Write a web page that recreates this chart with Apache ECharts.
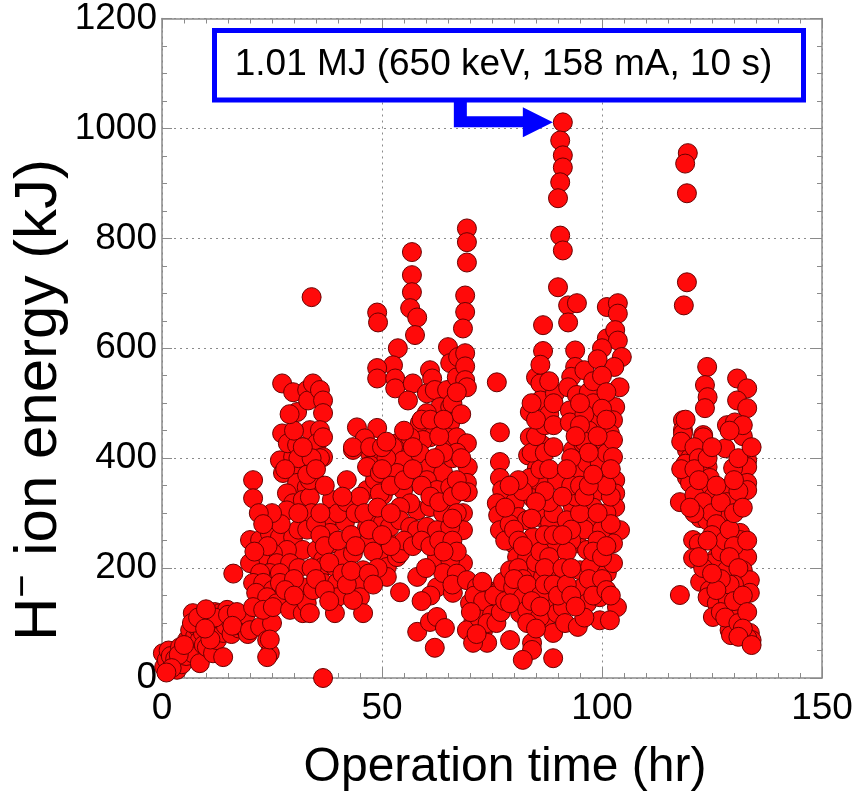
<!DOCTYPE html>
<html>
<head>
<meta charset="utf-8">
<script src="https://cdn.jsdelivr.net/npm/echarts@6/dist/echarts.min.js"></script>
<style>html,body{margin:0;padding:0;background:#fff}#c{width:860px;height:791px}</style>
</head>
<body>
<div id="c"></div>
<script>
// ---- data: [operation time (hr), H- ion energy (kJ)] ----
const period1 = [[0.5,20],[0.2,45],[1.1,33],[1.5,50],[2.5,27],[2,40],[3.4,15],[3,35],[4.1,56],[4.8,45],[4.5,25],[5.7,69],[5.5,40],[6.4,87],[6,55],[7,118],[7,45],[7.5,75],[8,93],[8.6,69],[8.6,27],[9.3,82],[9,100],[9.5,60],[10.2,56],[10.9,111],[10.5,85],[11.6,93],[11.6,45],[12,120],[12.5,69],[12.8,100],[13.2,118],[13.9,82],[13.9,38],[14.5,95],[14.8,124],[15.5,105],[15.8,80],[16.2,190],[16.5,115],[17,105],[17.5,90],[18.4,93],[18.4,105],[19,115],[19.5,80],[6.8,100],[8.2,110],[11,70],[12,110],[15,115],[17,120],[16,95],[3.8,42],[5,60],[9.8,90],[2.2,18],[1,10],[10,125]];
const period2 = [[20,87],[22.3,93],[23.9,69],[24.5,45],[23.9,38],[25,100],[24.5,70],
[20,251],[22.3,251],[24.5,264],[26.8,256],[29.8,256],[32,233],[28.4,233],[25.2,227],[22.3,220],[20,209],[26.1,209],[29.1,209],[24.5,191],[26.8,191],[22.3,191],[20.7,173],[23,173],[25.2,160],[26.8,173],[21.4,155],[23.9,147],[26.1,136],[20.7,129],[23,124],[25.2,129],[29.1,124],[32,118],[32,165],[32.9,136],
[20.7,360],[20.7,327],[26.8,396],[29.8,402],[30.7,384],[27.5,373],[30.7,355],[32.9,347],[28.4,336],[29.8,318],[32,324],[26.1,293],[28.4,305],[32.9,293],
[27.3,536],[29.8,520],[33,524],[30.7,484],[33.2,505],[27.3,445],[28.6,427],[30.7,424],[33.6,451],[34,693],
[34.3,536],[35.9,524],[36.6,505],[36.6,482],[35.9,451],[35.2,427],[36.6,438],[36.6,402],[35.9,400],[35.2,355],[33.6,329],[33.6,360],[38.6,324],[38.2,293],[38.2,264],[38.6,245],[41.6,284],[42,360],[35.2,233],[36.6,215],[36.6,202],[36.6,173],[34.3,160],[33.6,118],[39.3,202],[39.8,173],[39.8,147],[39.3,118],[41.1,220],[43.4,227],[45.7,196],[45.7,173],[45,147],[45.7,118],[43.4,142],[47.3,409],[47.3,387],[46.6,342],[48.4,360],[50.2,333],[43.4,415],[46.6,275],[48,293],[48.9,256],[46.8,245],[51.1,251],[50.2,282],[49.5,220],[51.1,202],[51.1,184],[36.6,0],
[44.3,456],[48.9,455],[46.1,436],[43.4,420],[47.3,420],[46.6,384],[49.5,373],[49.5,336],
[31,270],[33,270],[34,300],[35,280],[36,260],[37,240],[38,210],[40,250],[40,300],[42,320],[43,260],[44,240],[44,300],[45,330],[46,300],[47,270],[48,230],[49,310],[49,200],[41,190],[42,170],[43,195],[47,190],[48,170],[31,200],[30,180],[28,160],[30,150],[27,280],[25,300],[24,240],[22,300],[23,280],[21,230],[34,200],[35,180],[37,160],[38,140],[30,450],[31,400],[29,480],[34,400],[33,370],[35,380],[37,350],[31,300],[28,380],[32,420],[36,300],[41,330]];
const period3 = [[48.9,665],[49.1,647],[56.8,775],[56.8,733],[56.8,702],[56.4,673],[58,656],[57.5,624],[53.6,600],[52.5,569],[48.9,564],[48.9,545],[53,545],[53,527],[57,536],[55.9,505],[60.9,560],[61.4,545],[60.2,518],[62,524],[64.8,524],[63.2,493],[65.5,493],[60.2,482],[65.5,464],[62.5,464],[60.9,438],[64.8,438],[67,438],[65,602],[65.5,573],[67.3,584],[67,547],[53.4,427],[58.6,464],[59.3,433],[56.4,438],
[69.3,818],[69.3,793],[69.3,756],[68.9,696],[68.9,666],[68.4,636],[68.9,591],[68.9,567],[68.9,542],[69.3,529],[69.3,427],[69.5,384],[69.3,355],[69.5,338],[68.4,300],[68.4,269],[68.4,209],
[52.5,420],[54.8,396],[58.6,409],[60.9,384],[63.9,373],[60.2,360],[62.5,342],[65.5,347],[58,305],[60.9,311],[63.9,300],[53.4,373],[54.8,342],[56.4,318],[54.1,311],[51.8,275],[54.1,287],[56.4,275],[58,269],[60.2,275],[62.5,269],[65.5,275],[53.4,220],[54.1,227],[54.1,156],[58,184],[62.5,220],[65.5,215],[62.5,165],[66.1,155],[63.9,191],[58,84],[60.9,102],[62.5,111],[64.3,91],[62,55],
[51,400],[52,350],[55,360],[57,380],[59,350],[61,330],[63,320],[66,330],[67,360],[66,400],[67,410],[64,410],[62,400],[57,420],[55,450],[59,470],[61,470],[63,440],[66,500],[67,520],[68,480],[64,470],[52,300],[55,250],[57,240],[59,250],[61,240],[63,250],[66,250],[67,230],[60,200],[64,230],[67,190],[66,170],[61,150],[59,140],[52,240],[50,260],[50,380],[50,420],[51,430],[68,400],[68,340],[67,300],[66,290]];
const period4 = [[69.3,178],[71.6,165],[73.9,160],[70,136],[72.3,124],[74.5,129],[70.7,100],[73,87],[69.3,87],[73.9,64],[70.7,64],[76.1,136],[76.8,160],[71,150],[72,110],[73,140],[75,115],[75.5,150],[74,100],[71.5,80],[72.8,175],[70.2,120],[76,100],[77,120],[78,140],[77.5,175],
[76.1,538],[76.8,447],[76.8,393],[76.8,364],[77.3,342],[76.1,318],[76.4,296],[76.8,269],[80.2,320],[81,293],
[83.6,438],[86.4,424],[83.2,405],[85.2,382],[85.9,355],[83.6,364],[84.3,327],[89.8,360],
[82.9,287],[85.9,293],[88.2,282],[84.3,256],[88.9,245],[79.8,245],[80.7,220],[79.1,196],[83,220],[84.3,196],[86.6,184],[89.8,196],
[79.8,165],[82,147],[81.4,118],[79.1,136],[83,124],[85.9,160],[88.2,142],[87.5,111],[85.9,111],[89.8,118],[91.1,129],[88.9,82],[91.6,100],
[79.1,69],[84.1,64],[84.1,51],[82,33],[88.9,36],
[86.6,642],[86.6,595],[85,547],[86,536],[86,505],[83.6,484],[89.3,518],
[78,250],[79,280],[80,270],[81,250],[82,240],[81,200],[82,180],[80,180],[83,170],[85,210],[86,230],[87,260],[88,220],[87,200],[89,260],[89,300],[88,320],[87,340],[86,380],[84,410],[85,440],[87,460],[88,480],[85,470],[84,500],[87,410],[88,380],[89,420],[89,460],[89,500],[86,570],[88,540],[82,340],[81,360],[79,350],[78,310],[85,320],[84,290],[86,150],[87,170],[84,140],[83,100],[85,90],[86,130],[89,170],[90,150]];
const period5 = [[91.1,1011],[90.5,978],[91.1,951],[91.1,929],[90.5,902],[90,873],[90.5,805],[91.1,778],[90,711],[92.3,678],[94.3,682],[92.3,647],[101.1,675],[101.1,618],
[93.9,596],[93.9,566],[93,548],[92.3,529],[94.3,515],[92.7,487],[92.7,465],
[93.4,415],[95.7,427],[98,420],[100.2,433],[94.3,373],[96.6,391],[99.5,391],[101.1,409],[93.4,311],[92,287],
[94.3,245],[96.6,233],[95,196],[97.3,202],[95.7,165],[98.9,173],[101.1,191],[96.6,136],[99.5,147],[99.5,105],[94.5,93],
[103.6,682],[103.6,663],[103,633],[103.6,614],[104.5,584],[102.8,566],[104,529],[103,493],[102.5,469],[101.8,445],
[102.5,433],[102.5,402],[103,360],[103,336],[103,311],[104.1,269],[102.5,245],[102.5,209],[103.4,129],[101.8,105],
[96,560],[97,520],[98,500],[99,470],[97,450],[96,480],[98,540],[100,600],[99,580],[95,500],[96,430],[97,410],[95,460],[100,550],[101,520],[100,490],[99,440],[101,470],[100,360],[99,340],[98,310],[97,290],[96,270],[95,300],[94,330],[93,350],[93,400],[94,440],[101,300],[100,270],[99,250],[98,230],[100,220],[101,240],[102,280],[102,330],[101,350],[102,380],[97,180],[98,150],[96,110],[93,250],[92,230],[91,200],[92,170],[93,150],[94,130],[93,270],[100,180],[101,160],[102,150],[95,350],[96,330],[97,350],[98,370],[99,300],[92,380],[91,330],[91,260],[93,200]];
const period6 = [[119.5,955],[118.9,936],[119.3,882],[119.3,720],[118.6,678],
[123.9,566],[123.4,533],[124,511],[123.4,491],[118.4,469],[118.4,451],[123,442],[130.7,545],[133,527],[130.7,505],[133,491],[128.4,460],[130.2,465],
[118.4,445],[123,438],[128,418],[133,396],[133,384],[133,355],[133,342],[129.8,382],[119.3,415],[120,400],[119.3,365],[120,355],[124,384],[124.5,364],[124,342],[125.2,329],[117.7,320],[121,333],[127.5,342],[128.4,320],[128.6,293],[126.8,300],[122.3,291],[123.9,287],[120.7,251],[122,245],[120.7,218],[126.1,269],[126.8,251],[126.1,220],[125.2,209],[131.4,264],[131.4,251],[133,220],[132,196],[128.4,196],[122.3,175],[124.5,160],[124,147],[126.1,136],[125.2,111],[128.6,142],[117.7,151],[131.4,129],[131.6,115],[133.6,178],[133.6,155],[129,87],[129.3,78],[133.6,82],[134,69],[133,73],
[118,430],[119,390],[118,380],[119,470],[121,420],[122,400],[121,380],[122,360],[123,320],[125,300],[126,280],[127,320],[125,260],[127,230],[128,250],[129,270],[130,300],[130,240],[129,220],[131,200],[130,170],[129,170],[127,180],[126,160],[127,120],[128,110],[130,140],[131,100],[132,150],[133,120],[132,90],[131,75],[134,60],[123,200],[122,220],[124,250],[125,190],[121,300],[120,310],[124,400],[125,420],[126,350],[131,340],[132,310],[130,360],[131,400],[132,440],[134,420],[132,460],[129,450],[133,250]];

const xTicks = [0, 50, 100, 150];
const yTicks = [0, 200, 400, 600, 800, 1000, 1200];
const annotationText = '1.01 MJ (650 keV, 158 mA, 10 s)';
const xTitle = 'Operation time (hr)';
const yTitle = '{a|H}{s|−}{a| ion energy (kJ)}';

const FONT = '"Liberation Sans", Arial, Helvetica, sans-serif';
const allData = [].concat(period1, period2, period3, period4, period5, period6);

const chart = echarts.init(document.getElementById('c'), null, {renderer: 'canvas'});
const frame = {color: '#8a8a8a', width: 1.5};
const tickStyle = {color: '#8a8a8a', width: 1};

function mkX(primary) {
  return {
    type: 'value', gridIndex: 0, min: xTicks[0], max: xTicks[xTicks.length - 1],
    interval: xTicks[1] - xTicks[0], position: primary ? 'bottom' : 'top',
    axisLine: {show: true, onZero: false, lineStyle: frame},
    axisTick: {show: true, inside: true, length: 10, lineStyle: tickStyle},
    minorTick: {show: true, splitNumber: 10, length: 5, lineStyle: tickStyle},
    axisLabel: {show: primary, fontSize: 37, color: '#000', fontFamily: FONT, margin: 12,
                formatter: v => String(v)},
    splitLine: {show: primary, lineStyle: {color: '#8a8a8a', type: [2, 4], width: 1}}
  };
}
function mkY(primary) {
  return {
    type: 'value', gridIndex: 0, min: yTicks[0], max: yTicks[yTicks.length - 1],
    interval: yTicks[1] - yTicks[0], position: primary ? 'left' : 'right',
    axisLine: {show: true, onZero: false, lineStyle: frame},
    axisTick: {show: true, inside: true, length: 10, lineStyle: tickStyle},
    minorTick: {show: true, splitNumber: 4, length: 5, lineStyle: tickStyle},
    axisLabel: {show: primary, fontSize: 37, color: '#000', fontFamily: FONT, margin: 5,
                formatter: v => String(v)},
    splitLine: {show: primary, lineStyle: {color: '#8a8a8a', type: [2, 4], width: 1}}
  };
}

chart.setOption({
  animation: false,
  backgroundColor: '#fff',
  grid: {left: 162, right: 38, top: 18, bottom: 113, containLabel: false},
  xAxis: [mkX(true), mkX(false)],
  yAxis: [mkY(true), mkY(false)],
  series: [{
    type: 'scatter', xAxisIndex: 0, yAxisIndex: 0,
    data: allData, symbol: 'circle', symbolSize: 19,
    itemStyle: {color: '#ff0a0a', borderColor: '#6a0000', borderWidth: 1, opacity: 1},
    emphasis: {disabled: true}
  }]
});

// annotation arrow pointing to the peak point
let peak = allData[0];
allData.forEach(d => { if (d[1] > peak[1]) peak = d; });
const p = chart.convertToPixel({gridIndex: 0}, peak);
const tx = p[0] - 10, ty = p[1];
const boxBottom = 101;

chart.setOption({
  graphic: [
    {type: 'rect', shape: {x: 214.5, y: 30.5, width: 589, height: 69.5},
     style: {fill: '#fff', stroke: '#0000ff', lineWidth: 5}, z: 100},
    {type: 'text', x: 503.5, y: 65, z: 101,
     style: {text: annotationText, fontSize: 37, fontFamily: FONT, fill: '#000',
             textAlign: 'center', textVerticalAlign: 'middle'}},
    {type: 'polygon', z: 100,
     shape: {points: [[tx-99, boxBottom], [tx-86, boxBottom], [tx-86, ty-6], [tx-30, ty-6], [tx-30, ty-15],
                      [tx, ty], [tx-30, ty+15], [tx-30, ty+5], [tx-99, ty+5]]},
     style: {fill: '#0000ff'}},
    {type: 'text', x: 505, y: 768, z: 101,
     style: {text: xTitle, fontSize: 48, fontFamily: FONT, fill: '#000',
             textAlign: 'center', textVerticalAlign: 'middle'}},
    {type: 'text', x: 39, y: 400, rotation: Math.PI / 2, z: 101,
     style: {text: yTitle, fontFamily: FONT, fill: '#000', textAlign: 'center', textVerticalAlign: 'middle',
             rich: {a: {fontSize: 60, fontFamily: FONT, fill: '#000', lineHeight: 64},
                    s: {fontSize: 40, fontFamily: FONT, fill: '#000', padding: [0, 2, 30, 0], lineHeight: 64}}}}
  ]
});
</script>
</body>
</html>
